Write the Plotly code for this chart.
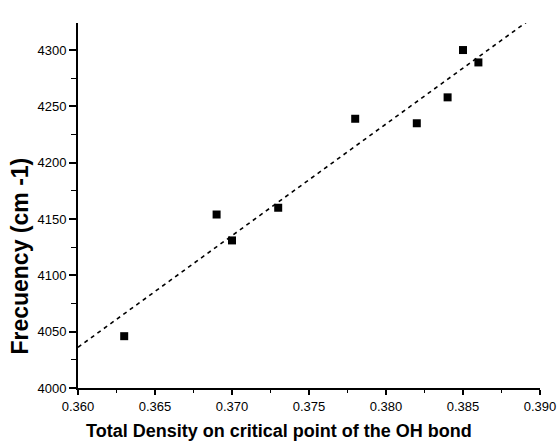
import numpy as np
import plotly.graph_objects as go

# Data
density = [0.363, 0.369, 0.370, 0.373, 0.378, 0.382, 0.384, 0.385, 0.386]
frequency = [4046, 4154, 4131, 4160, 4239, 4235, 4258, 4300, 4289]

x_ticks = [0.360, 0.365, 0.370, 0.375, 0.380, 0.385, 0.390]
x_tick_labels = ["0.360", "0.365", "0.370", "0.375", "0.380", "0.385", "0.390"]
y_ticks = [4000, 4050, 4100, 4150, 4200, 4250, 4300]
y_tick_labels = ["4000", "4050", "4100", "4150", "4200", "4250", "4300"]

x_title = "Total Density on critical point of the OH bond"
y_title = "Frecuency (cm -1)"

fit_x_range = [0.360, 0.3898]

# Linear regression fit through the data
slope, intercept = np.polyfit(density, frequency, 1)
fit_x = np.array(fit_x_range)
fit_y = slope * fit_x + intercept

FONT = "Liberation Sans, Arial, sans-serif"

fig = go.Figure()
fig.add_trace(go.Scatter(
    x=fit_x, y=fit_y, mode="lines",
    line=dict(color="black", width=1.6, dash="4px,4px"),
    showlegend=False, hoverinfo="skip",
))
fig.add_trace(go.Scatter(
    x=density, y=frequency, mode="markers",
    marker=dict(symbol="square", size=8, color="black"),
    showlegend=False,
))

fig.add_annotation(
    text="<b>" + x_title + "</b>", xref="paper", yref="paper",
    x=0.435, y=0, yshift=-43, xanchor="center", yanchor="middle",
    showarrow=False, font=dict(size=18, family=FONT, color="black"),
)
fig.add_annotation(
    text="<b>" + y_title + "</b>", xref="paper", yref="paper",
    x=0, xshift=-58, y=0.36, xanchor="center", yanchor="middle",
    textangle=-90, showarrow=False,
    font=dict(size=23, family=FONT, color="black"),
)

fig.update_layout(
    width=557, height=442,
    margin=dict(l=78, r=17, t=23, b=54),
    paper_bgcolor="white", plot_bgcolor="white",
    font=dict(family=FONT, color="black", size=13),
    xaxis=dict(
        range=[0.360, 0.390], automargin=False,
        tickvals=x_ticks, ticktext=x_tick_labels,
        ticks="outside", ticklen=5, tickwidth=1.5, tickcolor="black",
        minor=dict(dtick=0.0025, ticks="outside", ticklen=3, tickwidth=1.2, tickcolor="black"),
        showline=True, linecolor="black", linewidth=2,
        showgrid=False, zeroline=False,
        tickfont=dict(size=13, family=FONT),
    ),
    yaxis=dict(
        range=[4000, 4324], automargin=False,
        tickvals=y_ticks, ticktext=y_tick_labels,
        ticks="outside", ticklen=7, tickwidth=1.5, tickcolor="black",
        minor=dict(dtick=25, ticks="outside", ticklen=5, tickwidth=1.2, tickcolor="black"),
        showline=True, linecolor="black", linewidth=2,
        showgrid=False, zeroline=False,
        tickfont=dict(size=13, family=FONT),
    ),
)

fig.write_html("out.html", config={"displayModeBar": False},
               post_script="document.body.style.margin='0px';")
